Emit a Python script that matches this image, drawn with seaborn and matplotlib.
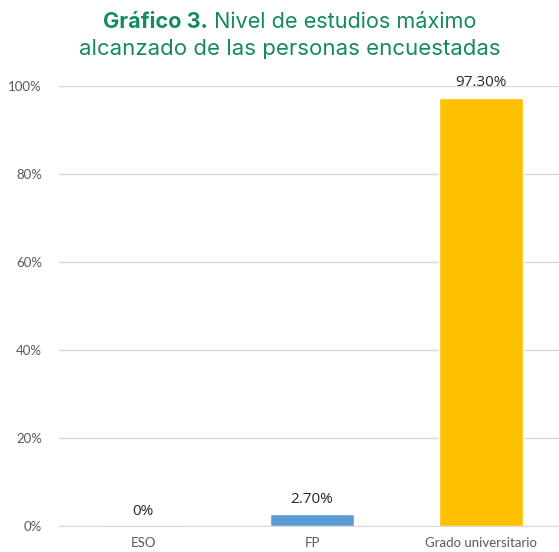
import matplotlib
matplotlib.use("Agg")
import matplotlib.pyplot as plt
import seaborn as sns
import pandas as pd

# datos
categorias = ["ESO", "FP", "Grado universitario"]
porcentajes = [0.0, 2.70, 97.30]
etiquetas = ["0%", "2.70%", "97.30%"]
colores = ["#5B9BD5", "#5B9BD5", "#FFC000"]
ticks_y = [0, 20, 40, 60, 80, 100]

df = pd.DataFrame({"nivel": categorias, "pct": porcentajes})

sns.set_style("white")
plt.rcParams["font.family"] = ["Lato", "DejaVu Sans"]

fig = plt.figure(figsize=(5.59, 5.52), dpi=100)
ax = fig.add_axes([0.1047, 0.0471, 0.907, 0.7971])

sns.barplot(data=df, x="nivel", y="pct", hue="nivel", palette=colores,
            width=0.5, legend=False, ax=ax, saturation=1)

ax.set_ylim(0, 100)
ax.set_xlim(-0.5, 2.5)
ax.set_yticks(ticks_y)
ax.set_yticklabels([f"{t}%" for t in ticks_y])
ax.yaxis.grid(True, color="#d9d9d9", linewidth=1)
ax.set_axisbelow(True)
for s in ["top", "right", "left"]:
    ax.spines[s].set_visible(False)
ax.spines["bottom"].set_color("#d9d9d9")
ax.tick_params(axis="both", length=0, labelsize=9.5, colors="#595959", pad=8)
ax.tick_params(axis="y", pad=12)
ax.set_xlabel("")
ax.set_ylabel("")

for i, (v, t) in enumerate(zip(porcentajes, etiquetas)):
    ax.text(i, v + 1.7, t, ha="center", va="bottom", fontsize=11,
            color="#262626", family=["Open Sans", "DejaVu Sans"])

# titulo
verde = "#148A5E"
ft = ["Inter", "DejaVu Sans"]
fig.canvas.draw()
r = fig.canvas.get_renderer()
t1 = fig.text(0, 0, "Gráfico 3.", fontsize=15.6, fontweight="bold", color=verde, family=ft)
t2 = fig.text(0, 0, " Nivel de estudios máximo", fontsize=15.6, color=verde, family=ft)
w1 = t1.get_window_extent(r).width / fig.bbox.width
w2 = t2.get_window_extent(r).width / fig.bbox.width
x0 = 0.518 - (w1 + w2) / 2
t1.set_position((x0, 0.949))
t2.set_position((x0 + w1, 0.949))
t1.set_va("baseline")
t2.set_va("baseline")
fig.text(0.518, 0.9, "alcanzado de las personas encuestadas", fontsize=16,
         color=verde, ha="center", va="baseline", family=ft)

plt.savefig("out.png", dpi=100)
